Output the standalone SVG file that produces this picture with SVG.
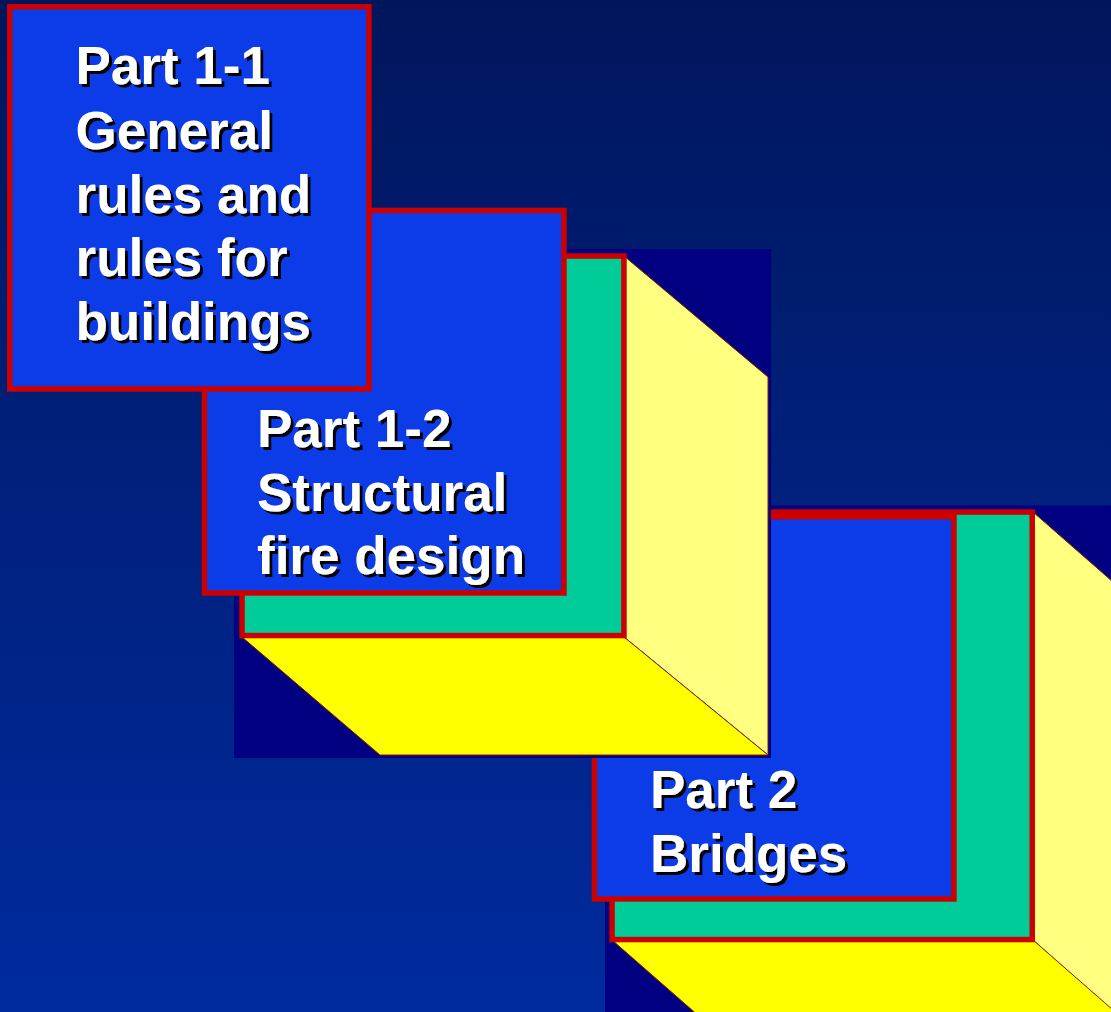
<svg xmlns="http://www.w3.org/2000/svg" width="1111" height="1012" viewBox="0 0 1111 1012">
<defs>
<linearGradient id="bg" x1="0" y1="0" x2="0" y2="1">
<stop offset="0" stop-color="#00165c"/>
<stop offset="1" stop-color="#002b9f"/>
</linearGradient>
<filter id="shadow" x="-5%" y="-5%" width="115%" height="120%">
<feOffset in="SourceAlpha" dx="2.5" dy="2.5" result="off"/>
<feMerge>
<feMergeNode in="off"/>
<feMergeNode in="SourceGraphic"/>
</feMerge>
</filter>
</defs>
<style>
.back{fill:#000080}
.front{fill:#00cc99;stroke:#cc0000;stroke-width:5.5}
.side{fill:#ffff80;stroke:#8b1a00;stroke-width:1}
.bottom{fill:#ffff00;stroke:#8b1a00;stroke-width:1}
.card{fill:#0b3ce8;stroke:#cc0000;stroke-width:5.5}
.t{font-family:"Liberation Sans",Arial,Helvetica,sans-serif;font-weight:bold;font-size:53px;fill:#ffffff;filter:url(#shadow)}
</style>
<rect x="0" y="0" width="1111" height="1012" fill="url(#bg)"/>

<g id="block-2">
<rect class="back" x="605" y="505.5" width="600" height="600"/>
<polygon class="side" points="1033,512 1193,652 1193,1082 1033,940"/>
<polygon class="bottom" points="612,940 1033,940 1193,1080 772,1080"/>
<rect class="front" x="612.05" y="512.05" width="420.2" height="427.5"/>
</g>

<g id="part-2">
<rect class="card" x="594.45" y="516.75" width="359.5" height="382.2"/>
<text class="t" x="650" y="808">Part 2</text>
<text class="t" x="650" y="872">Bridges</text>
</g>

<g id="block-1">
<rect class="back" x="234" y="249" width="537" height="509"/>
<polygon class="side" points="624,256 768,377 768,755 624,637"/>
<polygon class="bottom" points="242,637 624,637 768,755 380,755"/>
<rect class="front" x="242.05" y="256.05" width="381.9" height="379.5"/>
</g>

<g id="part-1-2">
<rect class="card" x="204.45" y="210.45" width="359.5" height="382.5"/>
<text class="t" x="257" y="447">Part 1-2</text>
<text class="t" x="257" y="511">Structural</text>
<text class="t" x="257" y="574">fire design</text>
</g>

<g id="part-1-1">
<rect class="card" x="9.75" y="6.75" width="359.2" height="382.2"/>
<text class="t" x="75.5" y="84">Part 1-1</text>
<text class="t" x="75.5" y="148.5">General</text>
<text class="t" x="75.5" y="212.5">rules and</text>
<text class="t" x="75.5" y="276">rules for</text>
<text class="t" x="75.5" y="340">buildings</text>
</g>

<g id="connectors"></g>
</svg>
